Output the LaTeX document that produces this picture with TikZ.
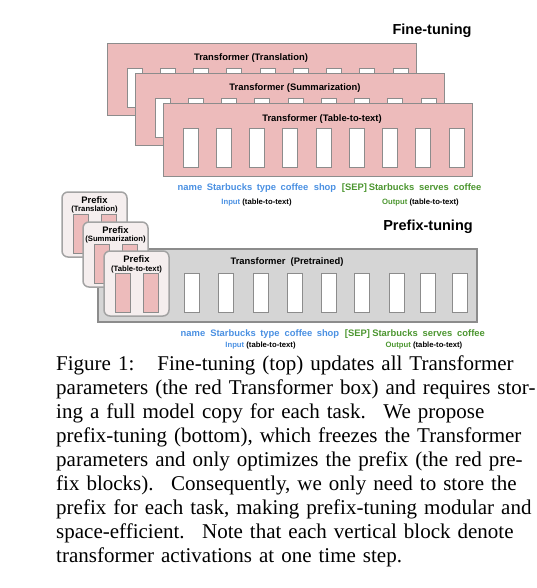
\documentclass[tikz,border=0pt]{standalone}
\usepackage{fontspec}
\setmainfont{Liberation Serif}
\setsansfont{Liberation Sans}
\definecolor{pk}{RGB}{237,187,187}
\definecolor{gr}{RGB}{213,213,213}
\definecolor{bd}{RGB}{140,140,140}
\definecolor{pf}{RGB}{245,238,238}
\definecolor{bl}{RGB}{74,144,226}
\definecolor{gn}{RGB}{76,150,48}
\tikzset{tb/.style = {draw=bd, fill=pk, line width=1pt, minimum width=309pt, minimum height=72pt, inner sep=0pt},
           wb/.style = {draw=bd, fill=white, line width=0.8pt, minimum width=15pt, minimum height=39pt, inner sep=0pt},
           rb/.style = {wb, fill=pk},
           pb/.style = {draw=bd!80, fill=pf, line width=1.5pt, rounded corners=6pt, minimum width=65pt, minimum height=65pt, inner sep=0pt},
           gb/.style = {draw=bd, fill=gr, line width=1.2pt, minimum width=379pt, minimum height=73pt, inner sep=0pt},
           hd/.style = {anchor=base, inner sep=0pt, font=\sffamily\bfseries\fontsize{9.4}{11}\selectfont},
           tk/.style = {hd, text=bl},
           tg/.style = {hd, text=gn},
           sm/.style = {anchor=base, inner sep=0pt, font=\sffamily\bfseries\fontsize{7.7}{9}\selectfont},
           bg/.style = {anchor=base, inner sep=0pt, font=\sffamily\bfseries\fontsize{14.5}{17}\selectfont}}

\begin{document}
\begin{tikzpicture}[x=1pt, y=-1pt]
    \useasboundingbox (0,0) rectangle (536,588);
    \node[bg] (ft) at (432,35) {Fine-tuning};
    % fine-tuning: one full copy per task
    \node[tb] (tA) at (261.5,80) {};
    \node[hd] (hA) at (251,60.5) {Transformer (Translation)};
    \node[wb] (a1) at (134.5,87.5) {}; \node[wb] (a2) at (167.75,87.5) {}; \node[wb] (a3) at (201,87.5) {};
    \node[wb] (a4) at (234.25,87.5) {}; \node[wb] (a5) at (267.5,87.5) {}; \node[wb] (a6) at (300.75,87.5) {};
    \node[wb] (a7) at (334,87.5) {}; \node[wb] (a8) at (367.25,87.5) {}; \node[wb] (a9) at (400.5,87.5) {};
    \node[tb] (tB) at (289.5,110) {};
    \node[hd] (hB) at (295,91) {Transformer (Summarization)};
    \node[wb] (b1) at (162.5,117.5) {}; \node[wb] (b2) at (195.75,117.5) {}; \node[wb] (b3) at (229,117.5) {};
    \node[wb] (b4) at (262.25,117.5) {}; \node[wb] (b5) at (295.5,117.5) {}; \node[wb] (b6) at (328.75,117.5) {};
    \node[wb] (b7) at (362,117.5) {}; \node[wb] (b8) at (395.25,117.5) {}; \node[wb] (b9) at (428.5,117.5) {};
    \node[tb] (tC) at (317.5,140) {};
    \node[hd] (hC) at (322,121.5) {Transformer (Table-to-text)};
    \node[wb] (c1) at (190.5,147.5) {}; \node[wb] (c2) at (223.75,147.5) {}; \node[wb] (c3) at (257,147.5) {};
    \node[wb] (c4) at (290.25,147.5) {}; \node[wb] (c5) at (323.5,147.5) {}; \node[wb] (c6) at (356.75,147.5) {};
    \node[wb] (c7) at (390,147.5) {}; \node[wb] (c8) at (423.25,147.5) {}; \node[wb] (c9) at (456.5,147.5) {};
    \node[tk] (u1) at (190,190.5) {name}; \node[tk] (u2) at (229.5,190.5) {Starbucks}; \node[tk] (u3) at (266.5,190.5) {type};
    \node[tk] (u4) at (294.5,190.5) {coffee}; \node[tk] (u5) at (325,190.5) {shop}; \node[tg] (u6) at (354.5,190.5) {[SEP]};
    \node[tg] (u7) at (391.5,190.5) {Starbucks}; \node[tg] (u8) at (434,190.5) {serves}; \node[tg] (u9) at (467.5,190.5) {coffee};
    \node[sm] (iu) at (256.5,204.5) {\textcolor{bl}{Input} (table-to-text)};
    \node[sm] (ou) at (420.5,204.5) {\textcolor{gn}{Output} (table-to-text)};
    % prefix-tuning: frozen transformer, one prefix per task
    \node[bg] (pt) at (428,230) {Prefix-tuning};
    \node[gb] (tP) at (287.5,285.5) {};
    \node[hd] (hP) at (287,264.5) {Transformer\ \ (Pretrained)};
    \node[pb] (pA) at (94.5,224.5) {};
    \node[hd] (qA) at (94.5,203.5) {Prefix}; \node[sm] (sA) at (94.5,211) {(Translation)};
    \node[rb] (pa1) at (80.5,233.5) {}; \node[rb] (pa2) at (108.5,233.5) {};
    \node[pb] (pB) at (115.5,254.5) {};
    \node[hd] (qB) at (115.5,233.5) {Prefix}; \node[sm] (sB) at (115.5,241) {(Summarization)};
    \node[rb] (pb1) at (101.5,263.5) {}; \node[rb] (pb2) at (129.5,263.5) {};
    \node[pb] (pC) at (136.5,283.5) {};
    \node[hd] (qC) at (136.5,262.5) {Prefix}; \node[sm] (sC) at (136.5,271) {(Table-to-text)};
    \node[rb] (pc1) at (122.5,292.5) {}; \node[rb] (pc2) at (150.5,292.5) {};
    \node[wb] (g1) at (192,292.5) {}; \node[wb] (g2) at (226,292.5) {}; \node[wb] (g3) at (260.5,292.5) {};
    \node[wb] (g4) at (294.5,292.5) {}; \node[wb] (g5) at (329,292.5) {}; \node[wb] (g6) at (361.5,292.5) {};
    \node[wb] (g7) at (397,292.5) {}; \node[wb] (g8) at (428,292.5) {}; \node[wb] (g9) at (459.5,292.5) {};
    \node[tk] (v1) at (193,336.5) {name}; \node[tk] (v2) at (233,336.5) {Starbucks}; \node[tk] (v3) at (270,336.5) {type};
    \node[tk] (v4) at (298.5,336.5) {coffee}; \node[tk] (v5) at (328,336.5) {shop}; \node[tg] (v6) at (357.5,336.5) {[SEP]};
    \node[tg] (v7) at (395,336.5) {Starbucks}; \node[tg] (v8) at (437.5,336.5) {serves}; \node[tg] (v9) at (471,336.5) {coffee};
    \node[sm] (iv) at (260.5,347.5) {\textcolor{bl}{Input} (table-to-text)};
    \node[sm] (ov) at (424,347.5) {\textcolor{gn}{Output} (table-to-text)};
    % caption
    \node[anchor=north west, inner sep=0pt, text width=437pt, align=left,
          font=\fontsize{21}{24}\selectfont] (cap) at (56,355.5) {%
      \makebox[437pt][s]{Figure 1:\hspace{0.6em} Fine-tuning (top) updates all Transformer}\\
      \makebox[437pt][s]{parameters (the red Transformer box) and requires stor-}\\
      \makebox[437pt][s]{ing a full model copy for each task. \ We propose}\\
      \makebox[437pt][s]{prefix-tuning (bottom), which freezes the Transformer}\\
      \makebox[437pt][s]{parameters and only optimizes the prefix (the red pre-}\\
      \makebox[437pt][s]{fix blocks). \ Consequently, we only need to store the}\\
      \makebox[437pt][s]{prefix for each task, making prefix-tuning modular and}\\
      \makebox[437pt][s]{space-efficient. \ Note that each vertical block denote}\\
      transformer activations at one time step.};
\end{tikzpicture}
\end{document}
